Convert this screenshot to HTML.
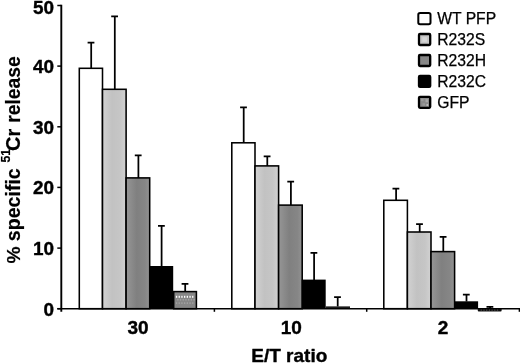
<!DOCTYPE html>
<html><head><meta charset="utf-8"><title>Chart</title>
<style>
html,body{margin:0;padding:0;background:#fff;}
svg{display:block;font-family:"Liberation Sans",Arial,sans-serif;}
.b{font-weight:700;stroke:#000;stroke-width:0.4px;stroke-linejoin:round;}
.t{font-weight:700;stroke:#000;stroke-width:0.2px;stroke-linejoin:round;}
</style></head>
<body>
<svg width="520" height="364" viewBox="0 0 520 364">
<defs>
<filter id="soft" x="0" y="0" width="520" height="364" filterUnits="userSpaceOnUse"><feGaussianBlur stdDeviation="0.4"/></filter>
<linearGradient id="lg" x1="0" x2="1" y1="0" y2="0"><stop offset="0" stop-color="#d2d2d2"/><stop offset="0.4" stop-color="#c2c2c2"/><stop offset="0.75" stop-color="#c6c6c6"/><stop offset="1" stop-color="#d2d2d2"/></linearGradient>
<linearGradient id="dg" x1="0" x2="1" y1="0" y2="0"><stop offset="0" stop-color="#969696"/><stop offset="0.45" stop-color="#808080"/><stop offset="0.8" stop-color="#868686"/><stop offset="1" stop-color="#929292"/></linearGradient>
</defs>
<rect width="520" height="364" fill="#fff"/>
<g filter="url(#soft)">
<path d="M91.2 68.3V42.5M87.6 42.5H94.4" stroke="#000" stroke-width="1.75" fill="none"/>
<rect x="79.3" y="68.3" width="23.2" height="240.4" fill="#ffffff" stroke="#000" stroke-width="1.55"/>
<path d="M114.8 89.3V16.3M111.2 16.3H118.0" stroke="#000" stroke-width="1.75" fill="none"/>
<rect x="102.5" y="89.3" width="23.6" height="219.4" fill="url(#lg)" stroke="#000" stroke-width="1.55"/>
<path d="M138.4 177.9V155.4M134.8 155.4H141.6" stroke="#000" stroke-width="1.75" fill="none"/>
<rect x="126.1" y="177.9" width="23.6" height="130.8" fill="url(#dg)" stroke="#000" stroke-width="1.55"/>
<path d="M161.6 266.3V225.8M158.0 225.8H164.8" stroke="#000" stroke-width="1.75" fill="none"/>
<rect x="149.2" y="266.0" width="24.0" height="42.7" fill="#000"/>
<path d="M185.2 291.6V283.8M181.6 283.8H188.4" stroke="#000" stroke-width="1.75" fill="none"/>
<rect x="173.7" y="291.6" width="22.7" height="17.1" fill="#868686" stroke="#000" stroke-width="1.55"/>
<rect x="175.9" y="295.8" width="1.3" height="2" fill="#ffffff"/><rect x="178.6" y="295.8" width="1.3" height="2" fill="#ffffff"/><rect x="181.3" y="295.8" width="1.3" height="2" fill="#ffffff"/><rect x="184.0" y="295.8" width="1.3" height="2" fill="#ffffff"/><rect x="186.7" y="295.8" width="1.3" height="2" fill="#ffffff"/><rect x="189.4" y="295.8" width="1.3" height="2" fill="#ffffff"/><rect x="192.1" y="295.8" width="1.3" height="2" fill="#ffffff"/><rect x="177.2" y="299.1" width="1.3" height="1.4" fill="#a6a6a6"/><rect x="179.9" y="299.1" width="1.3" height="1.4" fill="#a6a6a6"/><rect x="182.6" y="299.1" width="1.3" height="1.4" fill="#a6a6a6"/><rect x="185.3" y="299.1" width="1.3" height="1.4" fill="#a6a6a6"/><rect x="188.0" y="299.1" width="1.3" height="1.4" fill="#a6a6a6"/><rect x="190.7" y="299.1" width="1.3" height="1.4" fill="#a6a6a6"/><rect x="193.4" y="299.1" width="1.3" height="1.4" fill="#a6a6a6"/><rect x="175.9" y="302.4" width="1.3" height="1.4" fill="#a6a6a6"/><rect x="178.6" y="302.4" width="1.3" height="1.4" fill="#a6a6a6"/><rect x="181.3" y="302.4" width="1.3" height="1.4" fill="#a6a6a6"/><rect x="184.0" y="302.4" width="1.3" height="1.4" fill="#a6a6a6"/><rect x="186.7" y="302.4" width="1.3" height="1.4" fill="#a6a6a6"/><rect x="189.4" y="302.4" width="1.3" height="1.4" fill="#a6a6a6"/><rect x="192.1" y="302.4" width="1.3" height="1.4" fill="#a6a6a6"/>
<path d="M243.7 142.8V107.3M240.1 107.3H246.9" stroke="#000" stroke-width="1.75" fill="none"/>
<rect x="231.8" y="142.8" width="23.2" height="165.9" fill="#ffffff" stroke="#000" stroke-width="1.55"/>
<path d="M267.3 165.9V156.3M263.7 156.3H270.5" stroke="#000" stroke-width="1.75" fill="none"/>
<rect x="255.0" y="165.9" width="23.6" height="142.8" fill="url(#lg)" stroke="#000" stroke-width="1.55"/>
<path d="M290.9 205.1V181.5M287.3 181.5H294.1" stroke="#000" stroke-width="1.75" fill="none"/>
<rect x="278.6" y="205.1" width="23.6" height="103.6" fill="url(#dg)" stroke="#000" stroke-width="1.55"/>
<path d="M314.1 279.9V252.9M310.5 252.9H317.3" stroke="#000" stroke-width="1.75" fill="none"/>
<rect x="301.7" y="279.6" width="24.0" height="29.1" fill="#000"/>
<path d="M337.7 306.6V297.1M334.1 297.1H340.9" stroke="#000" stroke-width="1.75" fill="none"/>
<rect x="325.8" y="306.4" width="24.2" height="2.3" fill="#1a1a1a"/>
<path d="M396.1 200.3V188.7M392.5 188.7H399.3" stroke="#000" stroke-width="1.75" fill="none"/>
<rect x="383.8" y="200.3" width="23.6" height="108.4" fill="#ffffff" stroke="#000" stroke-width="1.55"/>
<path d="M419.7 232.0V224.2M416.1 224.2H422.9" stroke="#000" stroke-width="1.75" fill="none"/>
<rect x="407.4" y="232.0" width="23.6" height="76.7" fill="url(#lg)" stroke="#000" stroke-width="1.55"/>
<path d="M443.3 251.6V236.9M439.7 236.9H446.5" stroke="#000" stroke-width="1.75" fill="none"/>
<rect x="431.0" y="251.6" width="23.6" height="57.1" fill="url(#dg)" stroke="#000" stroke-width="1.55"/>
<path d="M466.5 301.6V294.6M462.9 294.6H469.7" stroke="#000" stroke-width="1.75" fill="none"/>
<rect x="454.1" y="301.3" width="24.0" height="7.4" fill="#000"/>
<path d="M490.1 308.7V306.9M486.5 306.9H493.3" stroke="#000" stroke-width="1.75" fill="none"/>
<rect x="477.8" y="307.9" width="23.8" height="3.6" rx="0.8" fill="#111"/>
<path d="M480.7 309.9H499.3" stroke="#999" stroke-width="0.8" stroke-dasharray="1.2 1.5"/>
<path d="M61.3 4.8V311.8" stroke="#000" stroke-width="1.9" fill="none"/>
<path d="M57.3 308.8H520" stroke="#000" stroke-width="1.5" fill="none"/>
<path d="M57.3 308.7H61.3" stroke="#000" stroke-width="1.5"/>
<text x="53.9" y="315.5" font-size="18.9" class="b" text-anchor="end">0</text>
<path d="M57.3 248.1H61.3" stroke="#000" stroke-width="1.5"/>
<text x="53.9" y="254.9" font-size="18.9" class="b" text-anchor="end">10</text>
<path d="M57.3 187.4H61.3" stroke="#000" stroke-width="1.5"/>
<text x="53.9" y="194.2" font-size="18.9" class="b" text-anchor="end">20</text>
<path d="M57.3 126.8H61.3" stroke="#000" stroke-width="1.5"/>
<text x="53.9" y="133.6" font-size="18.9" class="b" text-anchor="end">30</text>
<path d="M57.3 66.1H61.3" stroke="#000" stroke-width="1.5"/>
<text x="53.9" y="72.9" font-size="18.9" class="b" text-anchor="end">40</text>
<path d="M57.3 5.5H61.3" stroke="#000" stroke-width="1.5"/>
<text x="53.9" y="13.8" font-size="18.9" class="b" text-anchor="end">50</text>
<path d="M214.4 308.7V311.8" stroke="#000" stroke-width="1.5"/>
<path d="M366.7 308.7V311.8" stroke="#000" stroke-width="1.5"/>
<path d="M519.4 308.7V311.8" stroke="#000" stroke-width="1.5"/>
<text x="138.1" y="334" font-size="19.0" class="b" text-anchor="middle">30</text>
<text x="291.2" y="334" font-size="19.0" class="b" text-anchor="middle">10</text>
<text x="443" y="334" font-size="19.0" class="b" text-anchor="middle">2</text>
<text x="289.3" y="361.9" font-size="19" class="b" text-anchor="middle">E/T ratio</text>
<text transform="translate(19.5 263.4) rotate(-90)" font-size="19.2" class="t">%</text>
<text transform="translate(19.5 241.2) rotate(-90)" font-size="19.6" class="t">specific</text>
<text transform="translate(9.9 162.6) rotate(-90)" font-size="12.3" class="t">51</text>
<text transform="translate(19.5 150.9) rotate(-90)" font-size="19.9" class="t">Cr</text>
<text transform="translate(19.5 122.8) rotate(-90)" font-size="19.3" class="t">release</text>
<rect x="418.3" y="12.9" width="12.2" height="11.4" rx="1.8" fill="#fff" stroke="#000" stroke-width="2"/>
<text x="437.2" y="23.9" font-size="15.7" font-weight="400" stroke="#000" stroke-width="0.25">WT PFP</text>
<rect x="419.0" y="34.0" width="11.2" height="11.0" rx="1" fill="#c6c6c6" stroke="#000" stroke-width="2.3"/>
<rect x="422.3" y="37.2" width="4.6" height="4.6" fill="#d6d6d6"/>
<text x="437.2" y="44.8" font-size="15.7" font-weight="400" stroke="#000" stroke-width="0.25">R232S</text>
<rect x="419.0" y="55.0" width="11.2" height="11.0" rx="1" fill="#868686" stroke="#000" stroke-width="2.3"/>
<text x="437.2" y="65.8" font-size="15.7" font-weight="400" stroke="#000" stroke-width="0.25">R232H</text>
<rect x="419.0" y="75.9" width="11.2" height="11.0" rx="1" fill="#000000" stroke="#000" stroke-width="2.3"/>
<text x="437.2" y="86.7" font-size="15.7" font-weight="400" stroke="#000" stroke-width="0.25">R232C</text>
<rect x="419.0" y="96.8" width="11.2" height="11.0" rx="1" fill="#8a8a8a" stroke="#000" stroke-width="2.3"/>
<rect x="421" y="98.7" width="2.5" height="2.5" fill="#9c9c9c"/><rect x="425.5" y="99.2" width="2.5" height="3" fill="#a8a8a8"/><rect x="422.5" y="103.2" width="2.5" height="2.5" fill="#9a9a9a"/><rect x="426.5" y="104.2" width="1.6" height="1.6" fill="#c8c8c8"/>
<text x="437.2" y="107.6" font-size="15.7" font-weight="400" stroke="#000" stroke-width="0.25">GFP</text>
</g>
</svg>
</body></html>
